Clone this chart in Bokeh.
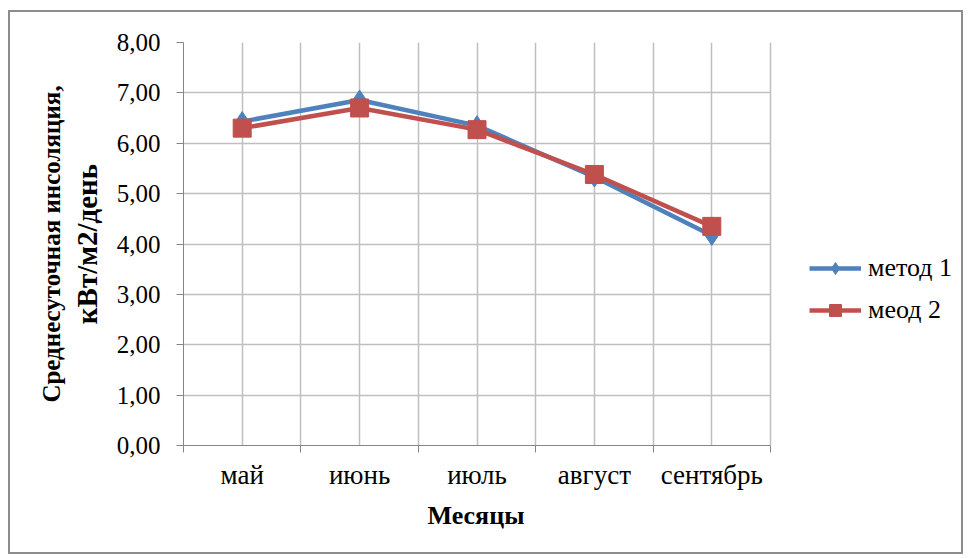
from bokeh.plotting import figure
from bokeh.models import Range1d, FixedTicker, Legend, LegendItem, LinearAxis
from bokeh.embed import file_html
from bokeh.resources import INLINE

months = ["май", "июнь", "июль", "август", "сентябрь"]
method1 = [6.43, 6.86, 6.35, 5.33, 4.17]
method2 = [6.30, 6.70, 6.27, 5.38, 4.35]
series_names = ["метод 1", "меод 2"]
y_ticks = [0, 1, 2, 3, 4, 5, 6, 7, 8]
y_title = ["Среднесуточная инсоляция,", "кВт/м2/день"]
x_title = "Месяцы"

BLUE = "#4F81BD"
RED = "#C0504D"
GRID = "#BFBFBF"
AX = "#868686"
FONT = "Liberation Serif"

n = len(months)
xc = [i + 0.5 for i in range(n)]
bounds = [float(i) for i in range(n + 1)]

W, H = 955, 544
BL, BR, BT, BB = 173, 2, 30, 111
frame_w = W - BL - BR            # drawing area incl. legend zone
plot_w = 587                      # width of the category area in px
x_end = n * frame_w / plot_w

p = figure(width=W, height=H, output_backend="svg", toolbar_location=None,
           x_range=Range1d(0, x_end), y_range=Range1d(0, 8),
           min_border_left=BL, min_border_right=BR,
           min_border_top=BT, min_border_bottom=BB)
p.margin = (10, 0, 0, 8)
p.styles = {"border": "2px solid #8c8c8c"}
p.outline_line_color = None
p.background_fill_color = "white"

# x axis; the title is padded with no-break spaces so that it centres
# under the category area rather than under the whole drawing area
pad = "\u00a0" * 30
p.xaxis.bounds = (0, n)
p.xaxis.ticker = FixedTicker(ticks=xc, minor_ticks=bounds)
p.xaxis.major_label_overrides = {x: m for x, m in zip(xc, months)}
p.xaxis.major_tick_line_color = None
p.xaxis.major_tick_out = 6
p.xaxis.major_tick_in = 0
p.xaxis.minor_tick_line_color = AX
p.xaxis.minor_tick_out = 7
p.xaxis.minor_tick_in = 0
p.xaxis.minor_tick_line_width = 1
p.xaxis.axis_line_color = AX
p.xaxis.major_label_text_font = FONT
p.xaxis.major_label_text_font_size = "27px"
p.xaxis.major_label_text_color = "black"
p.xaxis.major_label_standoff = 7
p.xaxis.axis_label = x_title + pad
p.xaxis.axis_label_text_font = FONT
p.xaxis.axis_label_text_font_size = "26px"
p.xaxis.axis_label_text_font_style = "bold"
p.xaxis.axis_label_text_color = "black"
p.xaxis.axis_label_standoff = 8

# y axis (inner title line)
p.yaxis.ticker = FixedTicker(ticks=y_ticks, minor_ticks=[])
p.yaxis.major_label_overrides = {t: f"{t:.2f}".replace(".", ",") for t in y_ticks}
p.yaxis.major_tick_line_color = AX
p.yaxis.major_tick_out = 7
p.yaxis.major_tick_in = 0
p.yaxis.minor_tick_line_color = None
p.yaxis.axis_line_color = AX
p.yaxis.major_label_text_font = FONT
p.yaxis.major_label_text_font_size = "25px"
p.yaxis.major_label_text_color = "black"
p.yaxis.major_label_standoff = 16
p.yaxis.axis_label = y_title[1]
p.yaxis.axis_label_text_font = FONT
p.yaxis.axis_label_text_font_size = "29px"
p.yaxis.axis_label_text_font_style = "bold"
p.yaxis.axis_label_text_color = "black"
p.yaxis.axis_label_standoff = 11

# outer title line, carried by a tick-less axis
outer = LinearAxis(ticker=FixedTicker(ticks=[], minor_ticks=[]), axis_line_color=None,
                   major_tick_line_color=None, minor_tick_line_color=None,
                   major_tick_out=0, major_tick_in=0, major_label_standoff=0,
                   axis_label=y_title[0], axis_label_standoff=3,
                   axis_label_text_font=FONT, axis_label_text_font_size="25px",
                   axis_label_text_font_style="bold", axis_label_text_color="black")
p.add_layout(outer, "left")

p.xgrid.bounds = (0, n)
p.xgrid.grid_line_color = GRID
p.xgrid.minor_grid_line_color = GRID
p.xgrid.grid_line_width = 1.5
p.xgrid.minor_grid_line_width = 1.5
p.ygrid.cross_bounds = (0, n)
p.ygrid.grid_line_color = GRID
p.ygrid.grid_line_width = 1.5

l1 = p.line(xc, method1, line_color=BLUE, line_width=4.5)
m1 = p.scatter(xc, method1, marker="diamond", size=20, fill_color=BLUE, line_color=BLUE)
l2 = p.line(xc, method2, line_color=RED, line_width=4.5)
m2 = p.scatter(xc, method2, marker="square", size=18, fill_color=RED, line_color=RED)

legend = Legend(items=[LegendItem(label=series_names[0], renderers=[l1, m1]),
                       LegendItem(label=series_names[1], renderers=[l2, m2])],
                location=(plot_w + 39, 120))
legend.border_line_color = None
legend.background_fill_alpha = 0
legend.label_text_font = FONT
legend.label_text_font_size = "26px"
legend.label_text_color = "black"
legend.glyph_width = 52
legend.glyph_height = 30
legend.spacing = 12
legend.label_standoff = 7
legend.padding = 4
legend.margin = 0
p.add_layout(legend, "center")

open("out.html", "w").write(file_html(p, INLINE))
